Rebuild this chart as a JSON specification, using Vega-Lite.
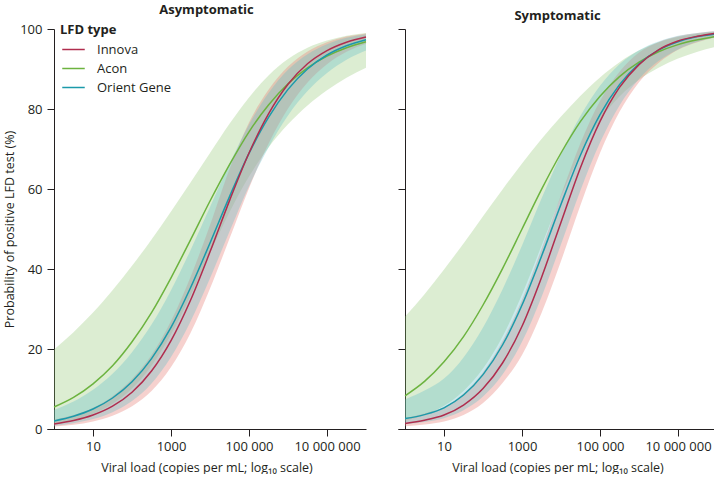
{
  "$schema": "https://vega.github.io/schema/vega-lite/v6.json",
  "padding": {"left": 3, "top": 4, "right": 0, "bottom": 0},
  "autosize": {"type": "pad"},
  "config": {
    "font": "Open Sans",
    "view": {"stroke": null},
    "axis": {"domainColor": "#231f20", "tickColor": "#231f20", "labelColor": "#231f20", "titleColor": "#231f20", "labelFontSize": 13, "titleFontSize": 12.5, "titleFontWeight": "normal", "grid": false, "tickSize": 7, "domainWidth": 1, "tickWidth": 1},
    "title": {"fontSize": 13, "fontWeight": "bold", "color": "#231f20", "offset": 6},
    "concat": {"spacing": 28}
  },
  "resolve": {"legend": {"color": "independent"}},
  "data": {"values": [
    {"panel":"Asymptomatic","type":"Acon","vl":1,"p":5.5,"lo":1.35,"hi":19.9},
    {"panel":"Asymptomatic","type":"Acon","vl":3.162,"p":7.9,"lo":2.3,"hi":24.2},
    {"panel":"Asymptomatic","type":"Acon","vl":10,"p":11.3,"lo":3.8,"hi":29.1},
    {"panel":"Asymptomatic","type":"Acon","vl":31.62,"p":15.8,"lo":6.3,"hi":34.7},
    {"panel":"Asymptomatic","type":"Acon","vl":100,"p":21.8,"lo":10.1,"hi":40.8},
    {"panel":"Asymptomatic","type":"Acon","vl":316.2,"p":29.1,"lo":15.8,"hi":47.4},
    {"panel":"Asymptomatic","type":"Acon","vl":1000,"p":37.8,"lo":23.6,"hi":54.4},
    {"panel":"Asymptomatic","type":"Acon","vl":3162,"p":47.3,"lo":33.3,"hi":61.6},
    {"panel":"Asymptomatic","type":"Acon","vl":10000,"p":57.0,"lo":44.0,"hi":69.0},
    {"panel":"Asymptomatic","type":"Acon","vl":31623,"p":66.1,"lo":54.2,"hi":76.3},
    {"panel":"Asymptomatic","type":"Acon","vl":100000,"p":74.3,"lo":63.1,"hi":82.9},
    {"panel":"Asymptomatic","type":"Acon","vl":316228,"p":81.0,"lo":70.4,"hi":88.4},
    {"panel":"Asymptomatic","type":"Acon","vl":1000000,"p":86.3,"lo":76.2,"hi":92.5},
    {"panel":"Asymptomatic","type":"Acon","vl":3162278,"p":90.3,"lo":80.9,"hi":95.3},
    {"panel":"Asymptomatic","type":"Acon","vl":10000000,"p":93.2,"lo":84.7,"hi":97.1},
    {"panel":"Asymptomatic","type":"Acon","vl":31622777,"p":95.3,"lo":87.8,"hi":98.3},
    {"panel":"Asymptomatic","type":"Acon","vl":100000000,"p":96.8,"lo":90.3,"hi":99.0},

    {"panel":"Asymptomatic","type":"Orient Gene","vl":1,"p":2.02,"lo":0.84,"hi":4.78},
    {"panel":"Asymptomatic","type":"Orient Gene","vl":3.162,"p":3.19,"lo":1.45,"hi":6.87},
    {"panel":"Asymptomatic","type":"Orient Gene","vl":10,"p":4.99,"lo":2.48,"hi":9.8},
    {"panel":"Asymptomatic","type":"Orient Gene","vl":31.62,"p":7.75,"lo":4.2,"hi":13.8},
    {"panel":"Asymptomatic","type":"Orient Gene","vl":100,"p":11.8,"lo":7.0,"hi":19.2},
    {"panel":"Asymptomatic","type":"Orient Gene","vl":316.2,"p":17.6,"lo":11.4,"hi":26.1},
    {"panel":"Asymptomatic","type":"Orient Gene","vl":1000,"p":25.4,"lo":18.0,"hi":34.7},
    {"panel":"Asymptomatic","type":"Orient Gene","vl":3162,"p":35.3,"lo":26.9,"hi":44.7},
    {"panel":"Asymptomatic","type":"Orient Gene","vl":10000,"p":46.5,"lo":37.7,"hi":55.5},
    {"panel":"Asymptomatic","type":"Orient Gene","vl":31623,"p":58.1,"lo":49.4,"hi":66.3},
    {"panel":"Asymptomatic","type":"Orient Gene","vl":100000,"p":68.9,"lo":60.7,"hi":76.1},
    {"panel":"Asymptomatic","type":"Orient Gene","vl":316228,"p":77.9,"lo":70.4,"hi":84.0},
    {"panel":"Asymptomatic","type":"Orient Gene","vl":1000000,"p":84.9,"lo":78.4,"hi":89.8},
    {"panel":"Asymptomatic","type":"Orient Gene","vl":3162278,"p":90.0,"lo":84.5,"hi":93.7},
    {"panel":"Asymptomatic","type":"Orient Gene","vl":10000000,"p":93.5,"lo":89.0,"hi":96.2},
    {"panel":"Asymptomatic","type":"Orient Gene","vl":31622777,"p":95.8,"lo":92.3,"hi":97.8},
    {"panel":"Asymptomatic","type":"Orient Gene","vl":100000000,"p":97.3,"lo":94.6,"hi":98.7},

    {"panel":"Asymptomatic","type":"Innova","vl":1,"p":1.27,"lo":0.61,"hi":2.3},
    {"panel":"Asymptomatic","type":"Innova","vl":3.162,"p":2.12,"lo":1.07,"hi":3.5},
    {"panel":"Asymptomatic","type":"Innova","vl":10,"p":3.49,"lo":1.89,"hi":5.3},
    {"panel":"Asymptomatic","type":"Innova","vl":31.62,"p":5.7,"lo":3.3,"hi":8.2},
    {"panel":"Asymptomatic","type":"Innova","vl":100,"p":9.2,"lo":5.67,"hi":12.5},
    {"panel":"Asymptomatic","type":"Innova","vl":316.2,"p":14.5,"lo":9.5,"hi":18.5},
    {"panel":"Asymptomatic","type":"Innova","vl":1000,"p":22.1,"lo":15.5,"hi":27.0},
    {"panel":"Asymptomatic","type":"Innova","vl":3162,"p":32.2,"lo":24.0,"hi":38.0},
    {"panel":"Asymptomatic","type":"Innova","vl":10000,"p":44.3,"lo":35.1,"hi":51.0},
    {"panel":"Asymptomatic","type":"Innova","vl":31623,"p":57.1,"lo":47.6,"hi":65.0},
    {"panel":"Asymptomatic","type":"Innova","vl":100000,"p":69.0,"lo":60.2,"hi":76.6},
    {"panel":"Asymptomatic","type":"Innova","vl":316228,"p":78.8,"lo":71.3,"hi":84.8},
    {"panel":"Asymptomatic","type":"Innova","vl":1000000,"p":86.2,"lo":80.1,"hi":90.6},
    {"panel":"Asymptomatic","type":"Innova","vl":3162278,"p":91.3,"lo":86.6,"hi":94.4},
    {"panel":"Asymptomatic","type":"Innova","vl":10000000,"p":94.6,"lo":91.2,"hi":96.7},
    {"panel":"Asymptomatic","type":"Innova","vl":31622777,"p":96.7,"lo":94.3,"hi":98.1},
    {"panel":"Asymptomatic","type":"Innova","vl":100000000,"p":98.0,"lo":96.3,"hi":98.9},

    {"panel":"Symptomatic","type":"Acon","vl":1,"p":8.3,"lo":2.06,"hi":28.1},
    {"panel":"Symptomatic","type":"Acon","vl":3.162,"p":11.9,"lo":3.47,"hi":33.7},
    {"panel":"Symptomatic","type":"Acon","vl":10,"p":16.8,"lo":5.8,"hi":39.9},
    {"panel":"Symptomatic","type":"Acon","vl":31.62,"p":23.1,"lo":9.5,"hi":46.4},
    {"panel":"Symptomatic","type":"Acon","vl":100,"p":31.0,"lo":15.1,"hi":53.2},
    {"panel":"Symptomatic","type":"Acon","vl":316.2,"p":40.1,"lo":23.1,"hi":59.9},
    {"panel":"Symptomatic","type":"Acon","vl":1000,"p":50.0,"lo":33.6,"hi":66.4},
    {"panel":"Symptomatic","type":"Acon","vl":3162,"p":59.9,"lo":45.8,"hi":72.5},
    {"panel":"Symptomatic","type":"Acon","vl":10000,"p":69.0,"lo":58.1,"hi":78.1},
    {"panel":"Symptomatic","type":"Acon","vl":31623,"p":76.9,"lo":68.9,"hi":83.3},
    {"panel":"Symptomatic","type":"Acon","vl":100000,"p":83.2,"lo":77.2,"hi":87.9},
    {"panel":"Symptomatic","type":"Acon","vl":316228,"p":88.1,"lo":83.1,"hi":91.7},
    {"panel":"Symptomatic","type":"Acon","vl":1000000,"p":91.7,"lo":87.3,"hi":94.6},
    {"panel":"Symptomatic","type":"Acon","vl":3162278,"p":94.3,"lo":90.3,"hi":96.7},
    {"panel":"Symptomatic","type":"Acon","vl":10000000,"p":96.1,"lo":92.6,"hi":98.0},
    {"panel":"Symptomatic","type":"Acon","vl":31622777,"p":97.3,"lo":94.3,"hi":98.8},
    {"panel":"Symptomatic","type":"Acon","vl":100000000,"p":98.2,"lo":95.6,"hi":99.3},

    {"panel":"Symptomatic","type":"Orient Gene","vl":1,"p":2.6,"lo":1.16,"hi":7.4},
    {"panel":"Symptomatic","type":"Orient Gene","vl":3.162,"p":3.6,"lo":1.75,"hi":9.6},
    {"panel":"Symptomatic","type":"Orient Gene","vl":10,"p":5.3,"lo":2.7,"hi":12.6},
    {"panel":"Symptomatic","type":"Orient Gene","vl":31.62,"p":8.5,"lo":4.68,"hi":17.9},
    {"panel":"Symptomatic","type":"Orient Gene","vl":100,"p":13.6,"lo":8.1,"hi":25.4},
    {"panel":"Symptomatic","type":"Orient Gene","vl":316.2,"p":21.0,"lo":13.6,"hi":34.9},
    {"panel":"Symptomatic","type":"Orient Gene","vl":1000,"p":31.0,"lo":21.8,"hi":45.9},
    {"panel":"Symptomatic","type":"Orient Gene","vl":3162,"p":43.2,"lo":33.0,"hi":57.6},
    {"panel":"Symptomatic","type":"Orient Gene","vl":10000,"p":56.2,"lo":46.2,"hi":68.7},
    {"panel":"Symptomatic","type":"Orient Gene","vl":31623,"p":68.5,"lo":59.7,"hi":78.3},
    {"panel":"Symptomatic","type":"Orient Gene","vl":100000,"p":78.6,"lo":71.6,"hi":85.8},
    {"panel":"Symptomatic","type":"Orient Gene","vl":316228,"p":86.1,"lo":80.9,"hi":91.2},
    {"panel":"Symptomatic","type":"Orient Gene","vl":1000000,"p":91.3,"lo":87.5,"hi":94.7},
    {"panel":"Symptomatic","type":"Orient Gene","vl":3162278,"p":94.7,"lo":92.0,"hi":96.9},
    {"panel":"Symptomatic","type":"Orient Gene","vl":10000000,"p":96.8,"lo":94.9,"hi":98.3},
    {"panel":"Symptomatic","type":"Orient Gene","vl":31622777,"p":98.1,"lo":96.8,"hi":99.0},
    {"panel":"Symptomatic","type":"Orient Gene","vl":100000000,"p":98.8,"lo":98.0,"hi":99.5},

    {"panel":"Symptomatic","type":"Innova","vl":1,"p":1.4,"lo":0.67,"hi":2.7},
    {"panel":"Symptomatic","type":"Innova","vl":3.162,"p":2.2,"lo":1.12,"hi":3.9},
    {"panel":"Symptomatic","type":"Innova","vl":10,"p":3.49,"lo":1.89,"hi":5.5},
    {"panel":"Symptomatic","type":"Innova","vl":31.62,"p":5.98,"lo":3.5,"hi":8.9},
    {"panel":"Symptomatic","type":"Innova","vl":100,"p":10.1,"lo":6.5,"hi":14.2},
    {"panel":"Symptomatic","type":"Innova","vl":316.2,"p":16.5,"lo":11.5,"hi":22.0},
    {"panel":"Symptomatic","type":"Innova","vl":1000,"p":25.7,"lo":18.5,"hi":32.3},
    {"panel":"Symptomatic","type":"Innova","vl":3162,"p":37.9,"lo":29.0,"hi":45.0},
    {"panel":"Symptomatic","type":"Innova","vl":10000,"p":51.7,"lo":42.0,"hi":58.5},
    {"panel":"Symptomatic","type":"Innova","vl":31623,"p":65.4,"lo":56.0,"hi":71.5},
    {"panel":"Symptomatic","type":"Innova","vl":100000,"p":76.9,"lo":69.0,"hi":82.0},
    {"panel":"Symptomatic","type":"Innova","vl":316228,"p":85.4,"lo":79.3,"hi":89.3},
    {"panel":"Symptomatic","type":"Innova","vl":1000000,"p":91.1,"lo":86.7,"hi":94.1},
    {"panel":"Symptomatic","type":"Innova","vl":3162278,"p":94.8,"lo":91.5,"hi":96.7},
    {"panel":"Symptomatic","type":"Innova","vl":10000000,"p":97.0,"lo":94.8,"hi":98.2},
    {"panel":"Symptomatic","type":"Innova","vl":31622777,"p":98.2,"lo":96.7,"hi":99.0},
    {"panel":"Symptomatic","type":"Innova","vl":100000000,"p":99.0,"lo":98.0,"hi":99.5}
  ]},
  "hconcat": [
    {
      "title": "Asymptomatic",
      "width": 319,
      "height": 400,
      "transform": [{"filter": "datum.panel === 'Asymptomatic'"}],
      "encoding": {
        "x": {"field": "vl", "type": "quantitative", "scale": {"type": "log", "domain": [0.66, 100000000], "nice": false},
              "axis": {"values": [10, 1000, 100000, 10000000], "labelExpr": "datum.value == 10 ? '10' : datum.value == 1000 ? '1000' : datum.value == 100000 ? '100 000' : '10 000 000'", "title": "Viral load (copies per mL; log₁₀ scale)", "labelPadding": 4, "titlePadding": 8}}
      },
      "layer": [
        {"transform": [{"filter": "datum.type === 'Acon'"}],
         "mark": {"type": "area", "interpolate": "monotone", "color": "#8cc46a", "opacity": 0.3},
         "encoding": {"y": {"field": "lo", "type": "quantitative", "scale": {"domain": [0, 100]}, "axis": {"values": [0, 20, 40, 60, 80, 100], "offset": -7, "title": "Probability of positive LFD test (%)", "labelPadding": 5, "titlePadding": 3}}, "y2": {"field": "hi"}}},
        {"transform": [{"filter": "datum.type === 'Innova'"}],
         "mark": {"type": "area", "interpolate": "monotone", "color": "#e8867e", "opacity": 0.38},
         "encoding": {"y": {"field": "lo", "type": "quantitative", "scale": {"domain": [0, 100]}, "axis": {"values": [0, 20, 40, 60, 80, 100], "offset": -7, "title": "Probability of positive LFD test (%)", "labelPadding": 5, "titlePadding": 3}}, "y2": {"field": "hi"}}},
        {"transform": [{"filter": "datum.type === 'Orient Gene'"}],
         "mark": {"type": "area", "interpolate": "monotone", "color": "#64bec8", "opacity": 0.34},
         "encoding": {"y": {"field": "lo", "type": "quantitative", "scale": {"domain": [0, 100]}, "axis": {"values": [0, 20, 40, 60, 80, 100], "offset": -7, "title": "Probability of positive LFD test (%)", "labelPadding": 5, "titlePadding": 3}}, "y2": {"field": "hi"}}},
        {"mark": {"type": "line", "interpolate": "monotone", "strokeWidth": 1.5},
         "encoding": {
           "y": {"field": "p", "type": "quantitative", "scale": {"domain": [0, 100]}, "axis": {"values": [0, 20, 40, 60, 80, 100], "offset": -7, "title": "Probability of positive LFD test (%)", "labelPadding": 5, "titlePadding": 3}},
           "color": {"field": "type", "type": "nominal", "scale": {"domain": ["Innova", "Acon", "Orient Gene"], "range": ["#b02d4e", "#6cb33f", "#1b9aaa"]},
                     "legend": {"title": "LFD type", "orient": "none", "legendX": 13, "legendY": -5, "symbolType": "M-1.5,0H1.5", "symbolSize": 225, "symbolStrokeWidth": 1.5, "symbolOffset": 5, "labelFontSize": 13, "titleFontSize": 13, "titleFontWeight": "bold", "rowPadding": 3, "titlePadding": 4, "labelOffset": 15, "padding": 0, "titleColor": "#231f20", "labelColor": "#231f20"}}
         }}
      ]
    },
    {
      "title": "Symptomatic",
      "width": 319,
      "height": 400,
      "transform": [{"filter": "datum.panel === 'Symptomatic'"}],
      "encoding": {
        "x": {"field": "vl", "type": "quantitative", "scale": {"type": "log", "domain": [0.66, 100000000], "nice": false},
              "axis": {"values": [10, 1000, 100000, 10000000], "labelExpr": "datum.value == 10 ? '10' : datum.value == 1000 ? '1000' : datum.value == 100000 ? '100 000' : '10 000 000'", "title": "Viral load (copies per mL; log₁₀ scale)", "labelPadding": 4, "titlePadding": 8}}
      },
      "layer": [
        {"transform": [{"filter": "datum.type === 'Acon'"}],
         "mark": {"type": "area", "interpolate": "monotone", "color": "#8cc46a", "opacity": 0.3},
         "encoding": {"y": {"field": "lo", "type": "quantitative", "scale": {"domain": [0, 100]}, "axis": {"values": [0, 20, 40, 60, 80, 100], "offset": -7, "labels": false, "title": null}}, "y2": {"field": "hi"}}},
        {"transform": [{"filter": "datum.type === 'Innova'"}],
         "mark": {"type": "area", "interpolate": "monotone", "color": "#e8867e", "opacity": 0.38},
         "encoding": {"y": {"field": "lo", "type": "quantitative", "scale": {"domain": [0, 100]}, "axis": {"values": [0, 20, 40, 60, 80, 100], "offset": -7, "labels": false, "title": null}}, "y2": {"field": "hi"}}},
        {"transform": [{"filter": "datum.type === 'Orient Gene'"}],
         "mark": {"type": "area", "interpolate": "monotone", "color": "#64bec8", "opacity": 0.34},
         "encoding": {"y": {"field": "lo", "type": "quantitative", "scale": {"domain": [0, 100]}, "axis": {"values": [0, 20, 40, 60, 80, 100], "offset": -7, "labels": false, "title": null}}, "y2": {"field": "hi"}}},
        {"mark": {"type": "line", "interpolate": "monotone", "strokeWidth": 1.5},
         "encoding": {
           "y": {"field": "p", "type": "quantitative", "scale": {"domain": [0, 100]}, "axis": {"values": [0, 20, 40, 60, 80, 100], "offset": -7, "labels": false, "title": null}},
           "color": {"field": "type", "type": "nominal", "scale": {"domain": ["Innova", "Acon", "Orient Gene"], "range": ["#b02d4e", "#6cb33f", "#1b9aaa"]}, "legend": null}
         }}
      ]
    }
  ]
}
